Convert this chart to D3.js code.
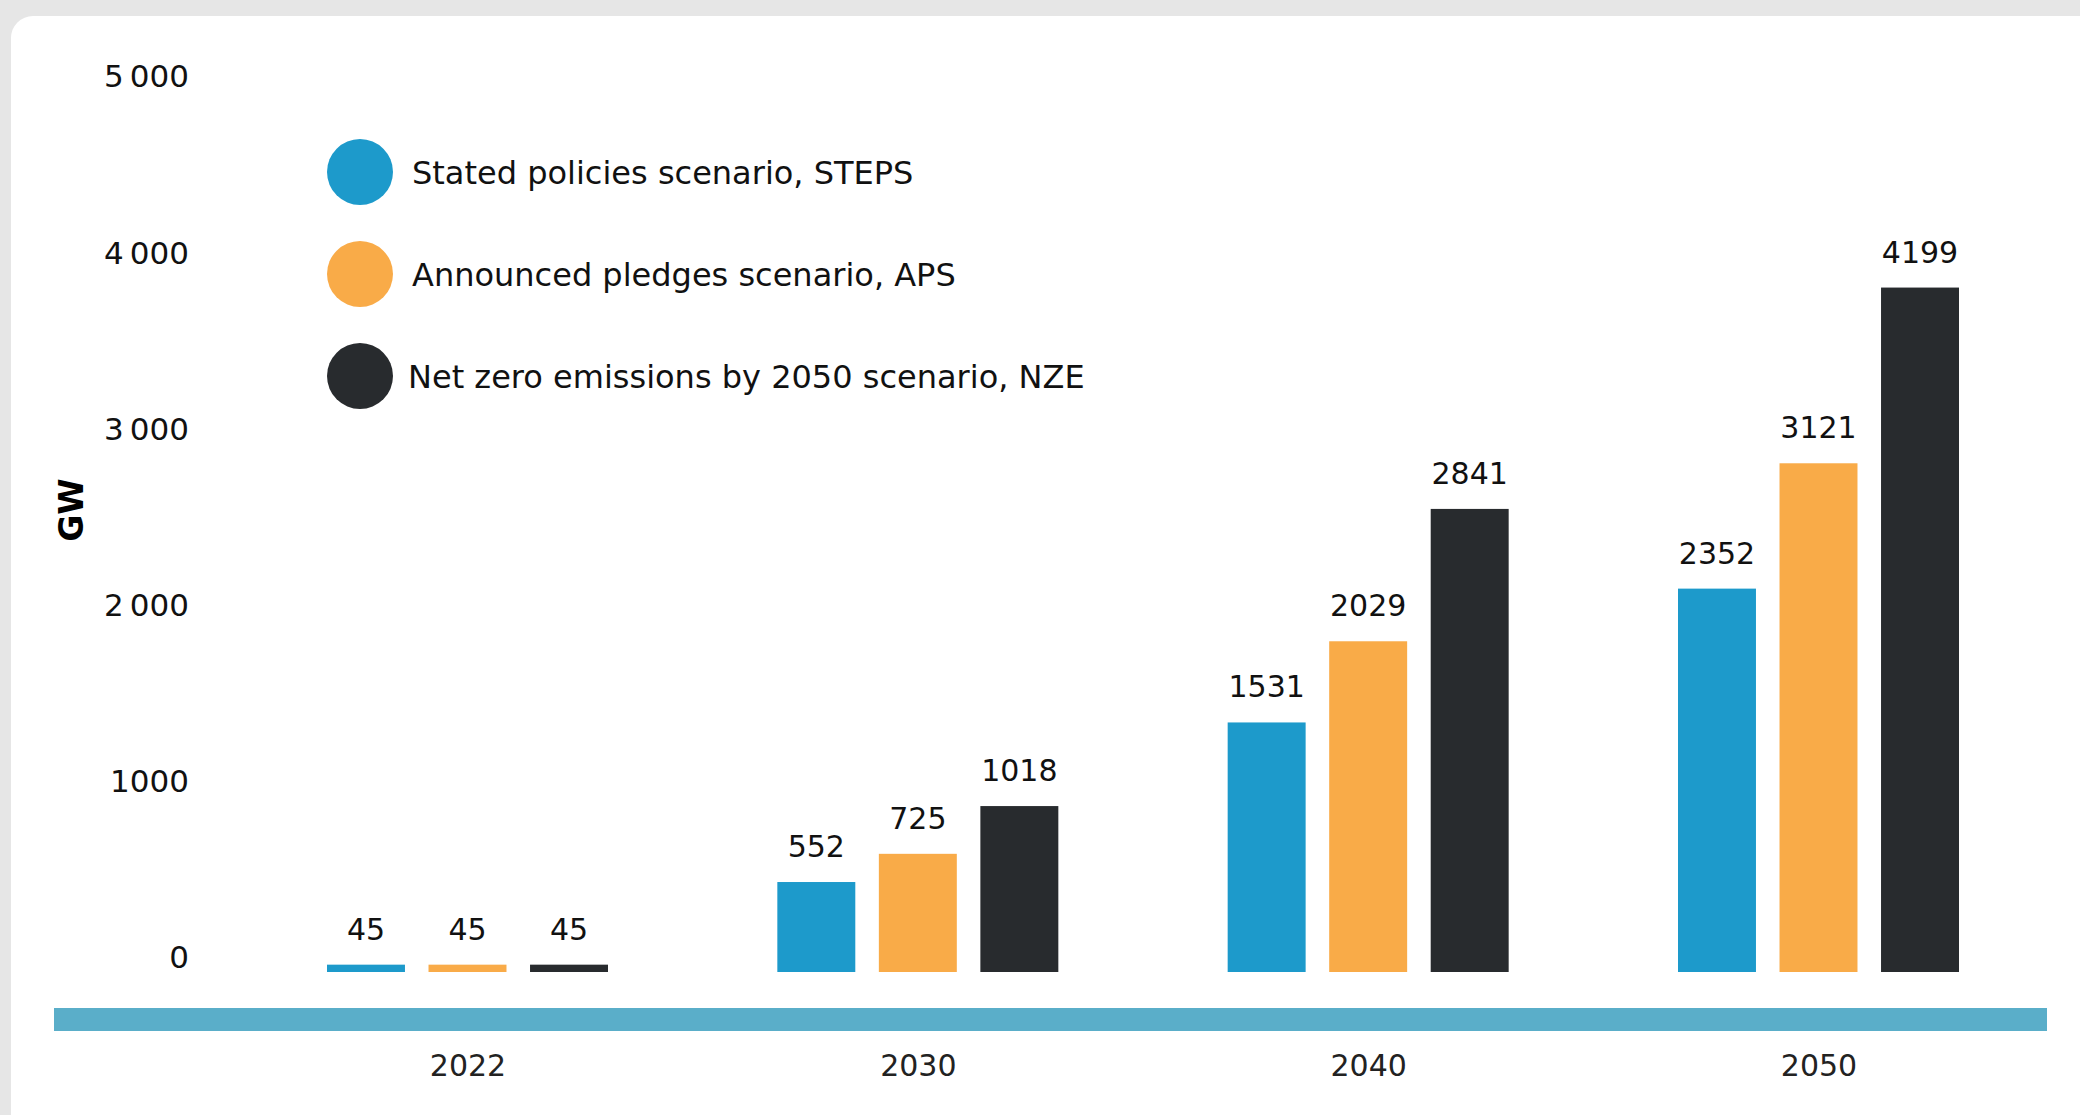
<!DOCTYPE html>
<html lang="en">
<head>
    <meta charset="UTF-8">
    <title>Capacity by scenario (GW)</title>
    <script src="https://d3js.org/d3.v7.min.js"></script>
    <style>
        body {
            margin: 0;
            background-color: #e6e6e6;
            font-family: "DejaVu Sans", sans-serif;
        }
        svg {
            display: block;
        }
        .y-axis text {
            font-size: 31px;
            fill: #111;
        }
        .x-axis text {
            font-size: 30px;
            fill: #222;
        }
        .value-label {
            font-size: 30px;
            fill: #111;
        }
        .legend-label {
            font-size: 32px;
            fill: #111;
        }
    </style>
</head>
<body>
    <div id="chart"></div>
    <script>
        // data
        const years = ["2022", "2030", "2040", "2050"];
        const scenarios = [
            "Stated policies scenario, STEPS",
            "Announced pledges scenario, APS",
            "Net zero emissions by 2050 scenario, NZE"
        ];
        const steps = [45, 552, 1531, 2352];
        const aps = [45, 725, 2029, 3121];
        const nze = [45, 1018, 2841, 4199];
        const yTicks = [0, 1000, 2000, 3000, 4000, 5000];
        const yTickLabels = ["0", "1000", "2\u2009000", "3\u2009000", "4\u2009000", "5\u2009000"];

        const colors = ["#1d9acb", "#f9ab48", "#282b2e"];

        const width = 2080, height = 1115;

        const svg = d3.select("#chart").append("svg")
            .attr("width", width)
            .attr("height", height);

        // white card
        svg.append("rect")
            .attr("x", 11)
            .attr("y", 16)
            .attr("width", width + 40)
            .attr("height", height + 40)
            .attr("rx", 22)
            .attr("fill", "#fff");

        // scales
        const x = d3.scalePoint().domain(years).range([467.5, 1818.5]);
        const xInner = d3.scaleBand().domain(d3.range(scenarios.length))
            .range([-140.5, 140.5]).paddingInner(0.232);

        // axis labels and bars sit on slightly different scales in the original
        const yAxisScale = d3.scaleLinear().domain([0, 5000]).range([958, 77]);
        const yBar = d3.scaleLinear().domain([0, 5000]).range([972, 972 - 5000 * 0.163]);

        // y axis
        const yAxis = svg.append("g")
            .attr("class", "y-axis")
            .attr("transform", "translate(189,0)")
            .call(d3.axisLeft(yAxisScale).tickValues(yTicks)
                .tickFormat((d, i) => yTickLabels[i]).tickSize(0).tickPadding(0))
            .attr("font-family", null);
        yAxis.select(".domain").remove();

        svg.append("text")
            .attr("transform", "translate(83,510) rotate(-90)")
            .attr("text-anchor", "middle")
            .attr("font-size", 33)
            .attr("font-weight", "bold")
            .attr("fill", "#000")
            .text("GW");

        // bottom band
        svg.append("rect")
            .attr("x", 54)
            .attr("y", 1008)
            .attr("width", 2047 - 54)
            .attr("height", 23)
            .attr("fill", "#5aaec9");

        // x axis labels
        const xAxis = svg.append("g")
            .attr("class", "x-axis")
            .attr("transform", "translate(0,1055)")
            .call(d3.axisBottom(x).tickSize(0).tickPadding(0))
            .attr("font-family", null);
        xAxis.select(".domain").remove();

        // bars
        const series = [steps, aps, nze];
        const rows = years.map((yr, j) => ({year: yr, values: series.map(s => s[j])}));

        const groups = svg.selectAll(".group")
            .data(rows)
            .enter().append("g")
            .attr("class", "group")
            .attr("transform", d => `translate(${x(d.year)},0)`);

        groups.selectAll("rect")
            .data(d => d.values)
            .enter().append("rect")
            .attr("x", (d, i) => xInner(i))
            .attr("y", d => yBar(d))
            .attr("width", xInner.bandwidth())
            .attr("height", d => yBar(0) - yBar(d))
            .attr("fill", (d, i) => colors[i]);

        groups.selectAll(".value-label")
            .data(d => d.values)
            .enter().append("text")
            .attr("class", "value-label")
            .attr("x", (d, i) => xInner(i) + xInner.bandwidth() / 2)
            .attr("y", d => yBar(d) - 25)
            .attr("text-anchor", "middle")
            .text(d => d);

        // legend
        const legend = svg.selectAll(".legend")
            .data(scenarios)
            .enter().append("g")
            .attr("class", "legend")
            .attr("transform", (d, i) => `translate(360,${172 + i * 102})`);

        legend.append("circle")
            .attr("r", 33)
            .attr("fill", (d, i) => colors[i]);

        legend.append("text")
            .attr("class", "legend-label")
            .attr("x", (d, i) => i === 2 ? 48 : 52)
            .attr("dy", "0.36em")
            .text(d => d);
    </script>
</body>
</html>
